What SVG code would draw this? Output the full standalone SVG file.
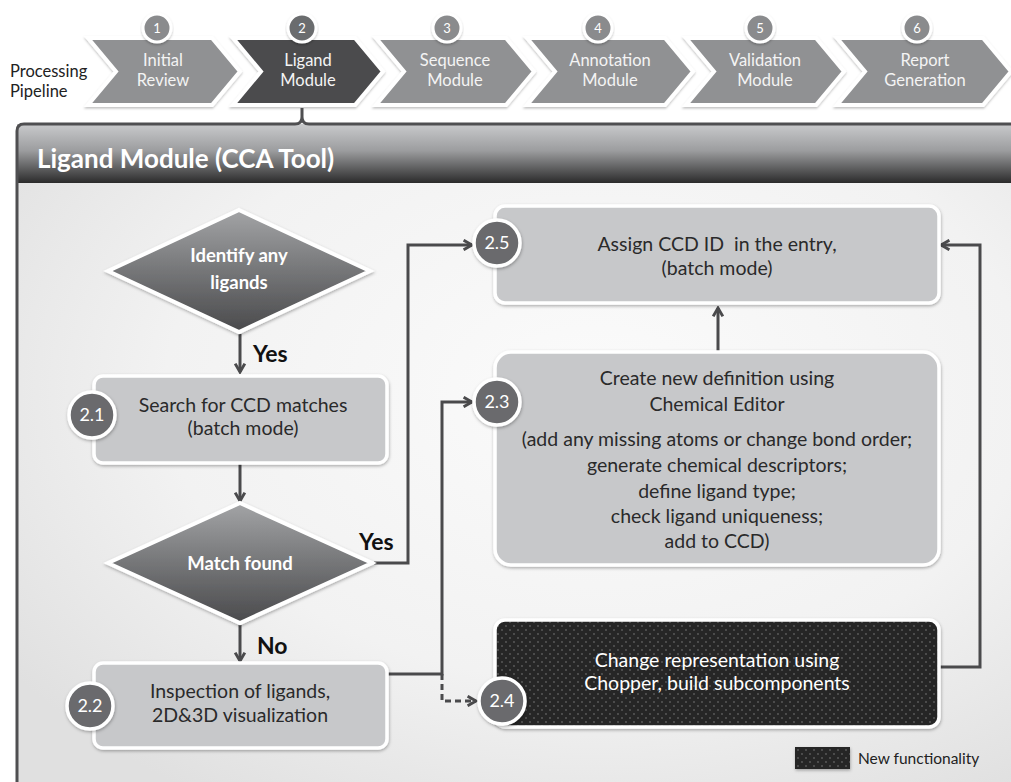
<svg xmlns="http://www.w3.org/2000/svg" width="1011" height="782" viewBox="0 0 1011 782">
<defs>
<style>
.chev{stroke:#ffffff;stroke-width:4;stroke-linejoin:miter;filter:url(#shs)}
.ctext{font-family:Lato,"Open Sans",sans-serif;font-size:16.5px;fill:#f4f4f4;text-anchor:middle}
.num{font-family:Lato,"Open Sans",sans-serif;font-size:13px;fill:#ffffff;text-anchor:middle}
.pc{stroke:#ffffff;stroke-width:3;filter:url(#shs)}
.box{fill:#c7c8ca;stroke:#ffffff;stroke-width:3.5;filter:url(#sh)}
.btext{font-family:Lato,"Open Sans",sans-serif;font-size:19.5px;fill:#2a2a2a;text-anchor:middle}
.wtext{font-family:Lato,"Open Sans",sans-serif;font-size:19.5px;fill:#ffffff;text-anchor:middle}
.dtext{font-family:Lato,"Open Sans",sans-serif;font-size:18.5px;font-weight:bold;fill:#ffffff;text-anchor:middle}
.badge{fill:#6a6b6d;stroke:#ffffff;stroke-width:3.5;filter:url(#sh)}
.btn{font-family:Lato,"Open Sans",sans-serif;font-size:18px;fill:#ffffff;text-anchor:middle}
.lbl{font-family:Lato,"Open Sans",sans-serif;font-size:23px;font-weight:bold;fill:#111111}
.dia{fill:url(#gdia);stroke:#ffffff;stroke-width:4;filter:url(#sh)}
.conn{fill:none;stroke:#4a4a4c;stroke-width:3;stroke-linejoin:miter}
</style>
<filter id="sh" x="-10%" y="-10%" width="120%" height="130%">
<feDropShadow dx="0.5" dy="1.5" stdDeviation="1.5" flood-color="#000" flood-opacity="0.3"/>
</filter>
<filter id="shs" x="-10%" y="-10%" width="120%" height="130%">
<feDropShadow dx="0" dy="1.5" stdDeviation="1.2" flood-color="#000" flood-opacity="0.25"/>
</filter>
<linearGradient id="ghead" x1="0" y1="0" x2="0" y2="1">
<stop offset="0" stop-color="#c9cacc"/>
<stop offset="0.45" stop-color="#9c9d9f"/>
<stop offset="1" stop-color="#2b2b2b"/>
</linearGradient>
<radialGradient id="gbody" cx="0.58" cy="0.4" r="0.72">
<stop offset="0" stop-color="#fbfbfb"/>
<stop offset="0.6" stop-color="#f2f2f2"/>
<stop offset="1" stop-color="#e0e0e0"/>
</radialGradient>
<linearGradient id="gdia" x1="0" y1="0" x2="0" y2="1">
<stop offset="0" stop-color="#a3a4a6"/>
<stop offset="0.5" stop-color="#757678"/>
<stop offset="1" stop-color="#4a4a4c"/>
</linearGradient>
<pattern id="dots" width="8" height="8" patternUnits="userSpaceOnUse">
<rect width="8" height="8" fill="#262626"/>
<circle cx="2" cy="2" r="0.7" fill="#8e8e8e"/>
<circle cx="6" cy="6" r="0.7" fill="#8e8e8e"/>
</pattern>
<marker id="arr" viewBox="0 0 10 10" refX="8.5" refY="5" markerWidth="12" markerHeight="12" markerUnits="userSpaceOnUse" orient="auto">
<path d="M1.5,1 L8.5,5 L1.5,9" fill="none" stroke="#4a4a4c" stroke-width="2.4"/>
</marker>
</defs>

<rect width="1011" height="782" fill="#ffffff"/>

<!-- pipeline -->
<g id="pipeline">
<text x="10" y="77" font-family="Lato,'Open Sans',sans-serif" font-size="16.5" fill="#222">Processing</text>
<text x="10" y="97" font-family="Lato,'Open Sans',sans-serif" font-size="16.5" fill="#222">Pipeline</text>
</g>
<g id="step1">
<polygon class="chev" fill="#909193" points="88,38 212,38 240,71.5 212,105 88,105 116,71.5"/>
<text class="ctext" x="163" y="66">Initial</text><text class="ctext" x="163" y="86">Review</text>
<circle class="pc" cx="157" cy="28" r="14" fill="#8a8b8d"/><text class="num" x="157" y="32.5">1</text>
</g>
<g id="step2">
<polygon class="chev" fill="#4b4b4d" points="233,38 355,38 383,71.5 355,105 233,105 261,71.5"/>
<text class="ctext" x="308" y="66">Ligand</text><text class="ctext" x="308" y="86">Module</text>
<circle class="pc" cx="302" cy="28" r="14" fill="#6b6c6e"/><text class="num" x="302" y="32.5">2</text>
</g>
<g id="step3">
<polygon class="chev" fill="#909193" points="376,38 506,38 534,71.5 506,105 376,105 404,71.5"/>
<text class="ctext" x="455" y="66">Sequence</text><text class="ctext" x="455" y="86">Module</text>
<circle class="pc" cx="447" cy="28" r="14" fill="#8a8b8d"/><text class="num" x="447" y="32.5">3</text>
</g>
<g id="step4">
<polygon class="chev" fill="#909193" points="527,38 665,38 693,71.5 665,105 527,105 555,71.5"/>
<text class="ctext" x="610" y="66">Annotation</text><text class="ctext" x="610" y="86">Module</text>
<circle class="pc" cx="598" cy="28" r="14" fill="#8a8b8d"/><text class="num" x="598" y="32.5">4</text>
</g>
<g id="step5">
<polygon class="chev" fill="#909193" points="686,38 816,38 844,71.5 816,105 686,105 714,71.5"/>
<text class="ctext" x="765" y="66">Validation</text><text class="ctext" x="765" y="86">Module</text>
<circle class="pc" cx="760" cy="28" r="14" fill="#8a8b8d"/><text class="num" x="760" y="32.5">5</text>
</g>
<g id="step6">
<polygon class="chev" fill="#909193" points="837,38 983,38 1011,71.5 983,105 837,105 865,71.5"/>
<text class="ctext" x="925" y="66">Report</text><text class="ctext" x="925" y="86">Generation</text>
<circle class="pc" cx="917" cy="28" r="14" fill="#8a8b8d"/><text class="num" x="917" y="32.5">6</text>
</g>

<!-- panel -->
<g id="panel">
<rect x="17" y="124" width="1000" height="670" rx="6" fill="url(#gbody)"/>
<rect x="17" y="124" width="1000" height="59" fill="url(#ghead)"/>
<path d="M17,790 V131 Q17,124 24,124 H295 Q302,124 302,117 V108 V117 Q302,124 309,124 H1011" fill="none" stroke="#4f4f51" stroke-width="3"/>
<text x="37" y="168" font-family="Lato,'Open Sans',sans-serif" font-size="26" font-weight="bold" fill="#ffffff">Ligand Module (CCA Tool)</text>
</g>

<!-- connectors -->
<g id="connectors">
<line class="conn" x1="240" y1="334" x2="240" y2="372" marker-end="url(#arr)"/>
<line class="conn" x1="240" y1="464" x2="240" y2="501" marker-end="url(#arr)"/>
<line class="conn" x1="240" y1="625" x2="240" y2="661" marker-end="url(#arr)"/>
<polyline class="conn" points="374,563 408,563 408,245 472,245" marker-end="url(#arr)"/>
<polyline class="conn" points="388,674 442,674 442,402 472,402" marker-end="url(#arr)"/>
<polyline class="conn" points="442,674 442,701 476,701" stroke-dasharray="6,4" marker-end="url(#arr)"/>
<line class="conn" x1="718" y1="351" x2="718" y2="308" marker-end="url(#arr)"/>
<polyline class="conn" points="940,667 980,667 980,245 941,245" marker-end="url(#arr)"/>
<text class="lbl" x="253" y="362">Yes</text>
<text class="lbl" x="359" y="550">Yes</text>
<text class="lbl" x="257" y="654">No</text>
</g>

<!-- nodes -->
<g id="identify">
<polygon class="dia" points="239,210 370,271 239,332 108,271"/>
<text class="dtext" x="239" y="262">Identify any</text>
<text class="dtext" x="239" y="289">ligands</text>
</g>
<g id="n21">
<rect class="box" x="94" y="376" width="293" height="87" rx="9"/>
<text class="btext" x="243" y="412">Search for CCD matches</text>
<text class="btext" x="243" y="435">(batch mode)</text>
<circle class="badge" cx="92" cy="415" r="23"/><text class="btn" x="92" y="421">2.1</text>
</g>
<g id="match">
<polygon class="dia" points="240,503 372,563 240,623 108,563"/>
<text class="dtext" x="240" y="570">Match found</text>
</g>
<g id="n22">
<rect class="box" x="94" y="663" width="293" height="85" rx="9"/>
<text class="btext" x="240" y="698">Inspection of ligands,</text>
<text class="btext" x="240" y="722">2D&amp;3D visualization</text>
<circle class="badge" cx="90" cy="706" r="23"/><text class="btn" x="90" y="712">2.2</text>
</g>
<g id="n25">
<rect class="box" x="495" y="206" width="444" height="97" rx="10"/>
<text class="btext" x="717" y="251" xml:space="preserve">Assign CCD ID  in the entry,</text>
<text class="btext" x="717" y="275">(batch mode)</text>
<circle class="badge" cx="497" cy="243" r="23"/><text class="btn" x="497" y="249">2.5</text>
</g>
<g id="n23">
<rect class="box" x="495" y="352" width="444" height="213" rx="16"/>
<text class="btext" x="717" y="385">Create new definition using</text>
<text class="btext" x="717" y="411">Chemical Editor</text>
<text class="btext" x="717" y="446">(add any missing atoms or change bond order;</text>
<text class="btext" x="717" y="472">generate chemical descriptors;</text>
<text class="btext" x="717" y="498">define ligand type;</text>
<text class="btext" x="717" y="523">check ligand uniqueness;</text>
<text class="btext" x="717" y="548">add to CCD)</text>
<circle class="badge" cx="497" cy="402" r="23"/><text class="btn" x="497" y="408">2.3</text>
</g>
<g id="n24">
<rect class="box" x="495" y="620" width="444" height="107" rx="10" style="fill:url(#dots)"/>
<text class="wtext" x="717" y="667">Change representation using</text>
<text class="wtext" x="717" y="690">Chopper, build subcomponents</text>
<circle class="badge" cx="502" cy="701" r="23"/><text class="btn" x="502" y="707">2.4</text>
</g>
<g id="legend">
<rect x="795" y="747" width="55" height="22" fill="url(#dots)" filter="url(#sh)"/>
<text x="858" y="764" font-family="Lato,'Open Sans',sans-serif" font-size="15.5" fill="#222">New functionality</text>
</g>
</svg>
